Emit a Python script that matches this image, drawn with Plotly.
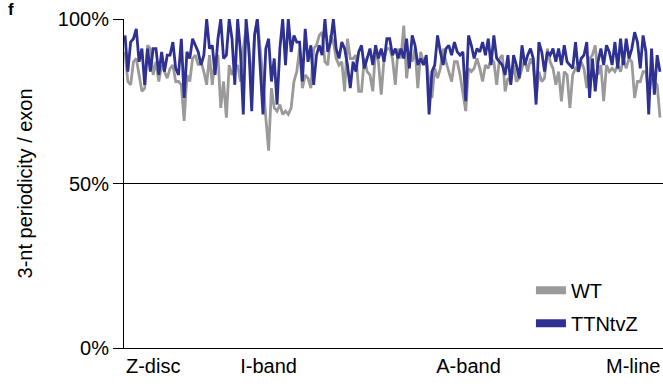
import plotly.graph_objects as go

# 3-nt periodicity per exon (%)
wt = [90, 81, 80, 87, 88, 83, 78, 79, 92, 91, 83, 87, 81, 86, 84, 82, 85, 86, 81, 81,
      80, 69, 83, 81, 88, 89, 86, 87, 84, 80,
      89, 80, 88, 89, 73, 81, 70, 86, 83, 85, 86, 81, 91, 97, 90, 81, 95, 100, 91, 82,
      70, 60, 79, 73, 72, 74, 71, 72, 71, 73, 81, 84,
      91, 79, 83, 82, 79, 91, 92, 95, 96, 87, 86, 95, 93, 88, 86, 87, 78, 94, 88, 88,
      89, 78, 78, 88, 84, 83, 78, 91, 87, 77, 88, 91,
      91, 88, 80, 91, 88, 98, 82, 89, 87, 91, 79, 90, 87, 88, 81, 76, 85, 82, 85, 91,
      87, 84, 81, 87, 87, 83, 77, 72, 85, 84, 85, 88,
      85, 81, 86, 85, 88, 87, 80, 88, 89, 78, 82, 81, 86, 81, 82, 85, 88, 84, 88, 86,
      76, 84, 81, 82, 91, 87, 85, 80, 84, 75, 84, 83,
      73, 83, 85, 84, 87, 85, 79, 88, 89, 92, 83, 86, 75, 86, 84, 85, 84, 86, 84, 88,
      85, 88, 87, 76, 81, 81, 84, 84, 77, 82, 81, 80, 70]

ttn = [95, 84, 93, 94, 97, 87, 91, 80, 91, 84, 91, 91, 83, 90, 84, 89, 89, 93, 85, 83,
       94, 76, 90, 88, 94, 92, 90, 86, 89, 100,
       91, 92, 83, 94, 100, 88, 89, 100, 94, 80, 100, 90, 71, 100, 91, 72, 95, 100, 87, 71,
       91, 94, 81, 88, 74, 91, 100, 86, 100, 90, 95, 93,
       93, 81, 97, 87, 92, 80, 89, 92, 89, 100, 90, 93, 100, 91, 88, 93, 91, 86, 79, 87,
       84, 90, 92, 85, 88, 91, 86, 92, 88, 91, 87, 94,
       94, 89, 91, 88, 91, 88, 94, 85, 95, 92, 86, 88, 86, 89, 71, 84, 86, 95, 90, 86,
       91, 92, 89, 93, 90, 89, 90, 75, 95, 92, 88, 91,
       90, 93, 89, 94, 86, 95, 88, 87, 86, 83, 89, 80, 89, 86, 82, 92, 86, 89, 91, 88,
       74, 93, 90, 84, 90, 89, 91, 87, 91, 86, 92, 87,
       86, 85, 93, 84, 88, 89, 93, 76, 88, 78, 87, 91, 86, 92, 90, 86, 93, 85, 94, 86,
       94, 88, 91, 96, 93, 85, 95, 90, 71, 91, 77, 89, 84]

exon = list(range(len(wt)))

region_labels = ["Z-disc", "I-band", "A-band", "M-line"]
region_pos = [10.0, 51.0, 122.0, 180.5]

y_tick_vals = [0, 50, 100]
y_tick_text = ["0%", "50%", "100%"]
y_title = "3-nt periodicity / exon"

GRAY = "#9a9a9a"
BLUE = "#2e3192"
FONT = "Liberation Sans, Arial, sans-serif"
FS = 20

fig = go.Figure()
fig.add_trace(go.Scatter(x=exon, y=wt, mode="lines", name="WT",
                         line=dict(color=GRAY, width=2.8), showlegend=False))
fig.add_trace(go.Scatter(x=exon, y=ttn, mode="lines", name="TTNtvZ",
                         line=dict(color=BLUE, width=2.8), showlegend=False))
# legend entries
fig.add_trace(go.Scatter(x=[None], y=[None], mode="lines", name="WT", legendgroup="wt",
                         line=dict(color=GRAY, width=8)))
fig.add_trace(go.Scatter(x=[None], y=[None], mode="lines", name="TTNtvZ", legendgroup="ttn",
                         line=dict(color=BLUE, width=8)))

fig.update_layout(
    width=663, height=389,
    margin=dict(l=124, r=0, t=19, b=41),
    paper_bgcolor="white", plot_bgcolor="white",
    font=dict(family=FONT, size=FS, color="black"),
    legend=dict(x=0.755, xanchor="left", y=0.235, yanchor="top",
                traceorder="grouped", tracegroupgap=4,
                bgcolor="rgba(0,0,0,0)", font=dict(size=FS)),
    shapes=[dict(type="line", xref="paper", yref="y", x0=0, x1=1, y0=50, y1=50,
                 line=dict(color="black", width=1), layer="below")],
    annotations=[
        dict(text="<b>f</b>", xref="paper", yref="paper",
             x=-0.218, y=1.03, xanchor="left", yanchor="middle",
             showarrow=False, font=dict(size=17)),
        dict(text=y_title, xref="paper", yref="paper", textangle=-90,
             x=-0.1837, y=0.5, xanchor="center", yanchor="middle",
             showarrow=False, font=dict(size=FS)),
    ],
)
fig.update_xaxes(range=[-0.36, 191.07], showgrid=False, zeroline=False,
                 showline=True, linecolor="black", linewidth=1,
                 tickmode="array", tickvals=region_pos, ticktext=region_labels,
                 ticks="", tickfont=dict(size=FS))
fig.update_yaxes(range=[0, 100], showgrid=False, zeroline=False,
                 showline=True, linecolor="black", linewidth=1,
                 tickmode="array", tickvals=y_tick_vals, ticktext=y_tick_text,
                 ticks="outside", ticklen=10, tickcolor="black", tickwidth=1,
                 tickfont=dict(size=FS))

fig.write_html("out.html", config={"displayModeBar": False},
               post_script="document.body.style.margin='0';")
